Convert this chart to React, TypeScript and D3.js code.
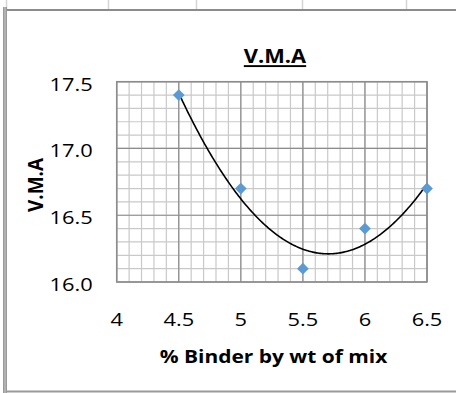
import React from 'react';
import * as d3 from 'd3';

// Binder content (% by weight of mix) and measured voids in mineral aggregate
const binder = [4.5, 5, 5.5, 6, 6.5];
const vma = [17.4, 16.7, 16.1, 16.4, 16.7];

const xTicks = [4, 4.5, 5, 5.5, 6, 6.5];
const yTicks = [16.0, 16.5, 17.0, 17.5];

const title = 'V.M.A';
const xTitle = '% Binder by wt of mix';
const yTitle = 'V.M.A';

// worksheet column boundaries peeking above the chart frame
const sheetColumns = [6, 108, 196, 302, 406];

const W = 456;
const H = 393;
const plot = { left: 116.7, right: 427, top: 81.7, bottom: 282 };
const font = "'Open Sans', 'Liberation Sans', sans-serif";
const stretch = 1.15;

// least-squares 2nd-order polynomial trendline
function quadFit(xs: number[], ys: number[]) {
  const n = xs.length;
  let s1 = 0, s2 = 0, s3 = 0, s4 = 0, t0 = 0, t1 = 0, t2 = 0;
  for (let i = 0; i < n; i++) {
    const x = xs[i], y = ys[i];
    s1 += x; s2 += x * x; s3 += x * x * x; s4 += x * x * x * x;
    t0 += y; t1 += x * y; t2 += x * x * y;
  }
  const M = [
    [n, s1, s2, t0],
    [s1, s2, s3, t1],
    [s2, s3, s4, t2],
  ];
  for (let c = 0; c < 3; c++) {
    for (let r = c + 1; r < 3; r++) {
      const f = M[r][c] / M[c][c];
      for (let k = c; k < 4; k++) M[r][k] -= f * M[c][k];
    }
  }
  const coef = [0, 0, 0];
  for (let r = 2; r >= 0; r--) {
    let s = M[r][3];
    for (let k = r + 1; k < 3; k++) s -= M[r][k] * coef[k];
    coef[r] = s / M[r][r];
  }
  return (x: number) => coef[0] + coef[1] * x + coef[2] * x * x;
}

export default function App() {
  const x = d3.scaleLinear().domain([4, 6.5]).range([plot.left, plot.right]);
  const y = d3.scaleLinear().domain([16.0, 17.5]).range([plot.bottom, plot.top]);

  const minorX = d3.range(40, 66).map((v) => v / 10);
  const minorY = d3.range(160, 176).map((v) => v / 10);

  const fit = quadFit(binder, vma);
  const curvePts = d3.range(0, 201).map((i) => {
    const xv = 4.5 + (2 * i) / 200;
    return [x(xv), y(fit(xv))] as [number, number];
  });
  const trend = d3.line()(curvePts) || '';

  const diamond = d3.symbol().type(d3.symbolDiamond2).size(88)() || '';

  return (
    <svg
      width={W}
      height={H}
      style={{ position: 'absolute', left: 0, top: 0, background: '#fff' }}
      fontFamily={font}
    >
      {/* worksheet cell lines above the chart */}
      {sheetColumns.map((cx) => (
        <line key={cx} x1={cx + 0.5} x2={cx + 0.5} y1={0} y2={9} stroke="#d4d4d4" strokeWidth={1.5} />
      ))}
      {/* chart frame */}
      <line x1={6} x2={W} y1={10} y2={10} stroke="#8c8c8c" strokeWidth={2} />
      <rect x={3} y={7} width={4} height={H - 7} fill="#9a9a9a" />
      <line x1={5} x2={5} y1={7} y2={H} stroke="#c8c8c8" strokeWidth={1} />
      <line x1={6} x2={W} y1={391.5} y2={391.5} stroke="#9a9a9a" strokeWidth={2} />

      {/* minor grid */}
      {minorX.map((v) => (
        <line key={'mx' + v} x1={x(v)} x2={x(v)} y1={plot.top} y2={plot.bottom} stroke="#c9c9c9" strokeWidth={1.2} />
      ))}
      {minorY.map((v) => (
        <line key={'my' + v} x1={plot.left} x2={plot.right} y1={y(v)} y2={y(v)} stroke="#c9c9c9" strokeWidth={1.2} />
      ))}
      {/* major grid */}
      {xTicks.map((v) => (
        <line key={'gx' + v} x1={x(v)} x2={x(v)} y1={plot.top} y2={plot.bottom} stroke="#8c8c8c" strokeWidth={1.2} />
      ))}
      {yTicks.map((v) => (
        <line key={'gy' + v} x1={plot.left} x2={plot.right} y1={y(v)} y2={y(v)} stroke="#8c8c8c" strokeWidth={1.2} />
      ))}
      <rect
        x={plot.left}
        y={plot.top}
        width={plot.right - plot.left}
        height={plot.bottom - plot.top}
        fill="none"
        stroke="#8c8c8c"
        strokeWidth={1.5}
      />

      {/* polynomial trendline */}
      <path d={trend} fill="none" stroke="#000" strokeWidth={1.6} />

      {/* data markers */}
      {binder.map((b, i) => (
        <path key={'pt' + i} d={diamond} transform={`translate(${x(b)},${y(vma[i])})`} fill="#5b9bd5" />
      ))}

      {/* tick labels */}
      {xTicks.map((v) => (
        <text
          key={'tx' + v}
          transform={`translate(${x(v)},325.5) scale(${stretch},1)`}
          textAnchor="middle"
          fontSize={19}
          fill="#000"
        >
          {d3.format('')(v)}
        </text>
      ))}
      {yTicks.map((v) => (
        <text
          key={'ty' + v}
          transform={`translate(92.7,${y(v) + 8.8}) scale(${stretch},1)`}
          textAnchor="end"
          fontSize={19}
          fill="#000"
        >
          {d3.format('.1f')(v)}
        </text>
      ))}

      {/* titles */}
      <text
        transform={`translate(275,63.3) scale(${stretch},1)`}
        textAnchor="middle"
        fontSize={19}
        fontWeight="bold"
        textDecoration="underline"
        fill="#000"
      >
        {title}
      </text>
      <text
        transform={`translate(273.5,363) scale(${stretch},1)`}
        textAnchor="middle"
        fontSize={18.2}
        fontWeight="bold"
        fill="#000"
      >
        {xTitle}
      </text>
      <text
        transform={`translate(43,185) scale(${stretch},1) rotate(-90)`}
        textAnchor="middle"
        fontSize={19}
        fontWeight="bold"
        fill="#000"
      >
        {yTitle}
      </text>
    </svg>
  );
}
